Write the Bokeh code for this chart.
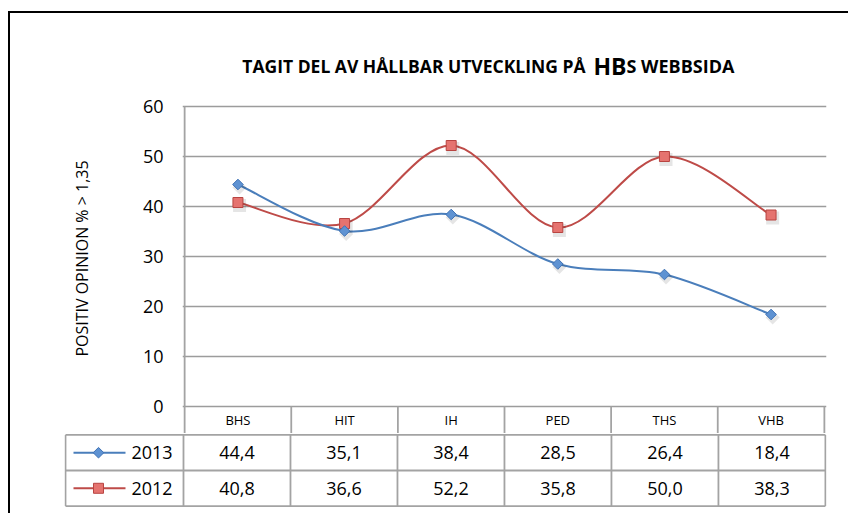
import numpy as np
from bokeh.plotting import figure
from bokeh.models import FactorRange, Range1d, FixedTicker, Spacer
from bokeh.layouts import column, row
from bokeh.core.properties import value
from bokeh.embed import file_html
from bokeh.resources import INLINE

# ---------------- data ----------------
categories = ["BHS", "HIT", "IH", "PED", "THS", "VHB"]
values_2013 = [44.4, 35.1, 38.4, 28.5, 26.4, 18.4]
values_2012 = [40.8, 36.6, 52.2, 35.8, 50.0, 38.3]
series_names = ["2013", "2012"]
y_ticks = [0, 10, 20, 30, 40, 50, 60]
title_main = "TAGIT DEL AV HÅLLBAR UTVECKLING PÅ"
title_big = "HB"
title_tail = "S WEBBSIDA"
y_label = "POSITIV OPINION % > 1,35"

# ---------------- styles ----------------
FONT = "Open Sans"
BLUE_LINE = "#4A7EBB"
BLUE_FILL = "#5E92D2"
BLUE_EDGE = "#3F72B4"
RED_LINE = "#BE4B48"
RED_FILL = "#E5736F"
RED_EDGE = "#B84441"
GRID = "#9c9c9c"
TABLE = "#a3a3a3"

W = 826            # figure width
n = len(categories)
xc = np.arange(n) + 0.5
Y_LOW = -5.4


def smooth(ys):
    """Bezier segments (Catmull-Rom style, like Excel's smoothed line)."""
    P = list(ys)
    X = list(xc)
    eP = [P[0]] + P + [P[-1]]
    eX = [X[0]] + X + [X[-1]]
    out = {k: [] for k in ["x0", "y0", "x1", "y1", "cx0", "cy0", "cx1", "cy1"]}
    for i in range(n - 1):
        xa, ya, xb, yb = X[i], P[i], X[i + 1], P[i + 1]
        xp, yp = eX[i], eP[i]
        xn, yn = eX[i + 3], eP[i + 3]
        out["x0"].append(float(xa)); out["y0"].append(ya)
        out["x1"].append(float(xb)); out["y1"].append(yb)
        out["cx0"].append(float(xa + (xb - xp) / 6)); out["cy0"].append(ya + (yb - yp) / 6)
        out["cx1"].append(float(xb - (xn - xa) / 6)); out["cy1"].append(yb - (yn - ya) / 6)
    return out


def bare(fig):
    fig.frame_align = False
    fig.grid.visible = False
    return fig


# ---------------- title strip ----------------
p0 = bare(figure(width=W, height=70, x_range=Range1d(0, W), y_range=Range1d(0, 70),
                 output_backend="svg", toolbar_location=None,
                 min_border_left=0, min_border_right=0, min_border_top=0, min_border_bottom=0,
                 x_axis_location=None, y_axis_location=None, outline_line_color=None,
                 background_fill_color="white", border_fill_color="white"))
TB = 18
p0.text(x=[575], y=[TB], text=[title_main], text_font=value(FONT),
        text_font_size="17.5px", text_font_style="bold", text_color="#000000",
        text_align="right", text_baseline="alphabetic")
p0.text(x=[583], y=[TB], text=[title_big], text_font=value(FONT),
        text_font_size="23px", text_font_style="bold", text_color="#000000",
        text_align="left", text_baseline="alphabetic")
p0.text(x=[616], y=[TB], text=[title_tail], text_font=value(FONT),
        text_font_size="18px", text_font_style="bold", text_color="#000000",
        text_align="left", text_baseline="alphabetic")

# ---------------- chart ----------------
p1 = figure(width=W, height=350,
            x_range=FactorRange(factors=categories, range_padding=0.02,
                                range_padding_units="absolute"),
            y_range=Range1d(Y_LOW, 64.6),
            output_backend="svg", toolbar_location=None,
            min_border_left=172, min_border_right=10,
            min_border_top=0, min_border_bottom=0,
            x_axis_location=None, outline_line_color=None,
            background_fill_color="white", border_fill_color="white")
p1.frame_align = False

for g in p1.xgrid:
    g.visible = False
p1.ygrid.ticker = FixedTicker(ticks=y_ticks)
p1.ygrid.grid_line_color = GRID
p1.ygrid.grid_line_width = 1.7

ax = p1.yaxis[0]
ax.ticker = FixedTicker(ticks=y_ticks)
ax.bounds = (0, 60)
ax.axis_line_color = None
ax.major_tick_line_color = None
ax.minor_tick_line_color = None
ax.major_tick_out = 0
ax.major_label_standoff = 19
ax.major_label_text_font = FONT
ax.major_label_text_font_size = "18px"
ax.major_label_text_color = "#000000"
ax.axis_label = y_label
ax.axis_label_text_font = FONT
ax.axis_label_text_font_size = "16px"
ax.axis_label_text_font_style = "normal"
ax.axis_label_text_color = "#000000"
ax.axis_label_standoff = 47

# left axis line + header-row separators
p1.segment(x0=[0], y0=[Y_LOW], x1=[0], y1=[60], line_color=TABLE, line_width=1.8)
p1.segment(x0=list(range(1, n + 1)), y0=[Y_LOW] * n, x1=list(range(1, n + 1)), y1=[0] * n,
           line_color=TABLE, line_width=1.8)
p1.text(x=categories, y=[Y_LOW / 2] * n, text=categories,
        text_font=value(FONT), text_font_size="13px", text_color="#000000",
        text_align="center", text_baseline="middle")

# series
for vals, lc in [(values_2012, RED_LINE), (values_2013, BLUE_LINE)]:
    p1.bezier(line_color=lc, line_width=2, **smooth(vals))

# marker shadows
p1.scatter(x=list(xc + 0.015), y=[v - 0.6 for v in values_2012], marker="square", size=13,
           fill_color="#000000", fill_alpha=0.10, line_color=None)
p1.scatter(x=list(xc + 0.015), y=[v - 0.6 for v in values_2013], marker="square", size=10,
           angle=np.pi / 4, fill_color="#000000", fill_alpha=0.10, line_color=None)

p1.scatter(x=categories, y=values_2012, marker="square", size=10,
           fill_color=RED_FILL, line_color=RED_EDGE, line_width=1)
p1.scatter(x=categories, y=values_2013, marker="square", size=7.5, angle=np.pi / 4,
           fill_color=BLUE_FILL, line_color=BLUE_EDGE, line_width=1)

# ---------------- data table ----------------
X_LEFT = -(183 - 65) / 107
p2 = bare(figure(width=W, height=74,
                 x_range=Range1d(-(183 - 64) / 107, 6.01), y_range=Range1d(-0.04, 2.04),
                 output_backend="svg", toolbar_location=None,
                 min_border_left=54, min_border_right=10, min_border_top=0, min_border_bottom=0,
                 x_axis_location=None, y_axis_location=None, outline_line_color=None,
                 background_fill_color="white", border_fill_color="white"))

p2.segment(x0=[X_LEFT] * 3, y0=[0, 1, 2], x1=[n] * 3, y1=[0, 1, 2],
           line_color=TABLE, line_width=1.8)
vx = [X_LEFT] + list(range(0, n + 1))
p2.segment(x0=vx, y0=[0] * len(vx), x1=vx, y1=[2] * len(vx),
           line_color=TABLE, line_width=1.8)

rows = [(values_2013, 1.5), (values_2012, 0.5)]
for vals, yy in rows:
    p2.text(x=list(xc), y=[yy] * n, text=[f"{v:.1f}".replace(".", ",") for v in vals],
            text_font=value(FONT), text_font_size="18px", text_color="#000000",
            text_align="center", text_baseline="middle")

# legend keys inside the table
lx0, lx1, lxm, ltx = (73 - 183) / 107, (125 - 183) / 107, (98 - 183) / 107, (131 - 183) / 107
p2.segment(x0=[lx0, lx0], y0=[1.5, 0.5], x1=[lx1, lx1], y1=[1.5, 0.5],
           line_color=[BLUE_LINE, RED_LINE], line_width=2)
p2.scatter(x=[lxm], y=[1.5], marker="square", size=7.5, angle=np.pi / 4,
           fill_color=BLUE_FILL, line_color=BLUE_EDGE)
p2.scatter(x=[lxm], y=[0.5], marker="square", size=10,
           fill_color=RED_FILL, line_color=RED_EDGE)
p2.text(x=[ltx, ltx], y=[1.5, 0.5], text=series_names, text_font=value(FONT),
        text_font_size="18px", text_color="#000000", text_align="left", text_baseline="middle")

# page frame (black lines at left and top); the page itself has no margin
left_bar = Spacer(width=2, height=502, styles={"background-color": "#000000"})
top_bar = Spacer(width=838, height=2, styles={"background-color": "#000000"})
layout = row(Spacer(width=8, height=10),
             column(Spacer(width=840, height=11),
                    row(left_bar, column(top_bar, p0, p1, p2))))

open("out.html", "w").write(file_html(layout, INLINE))
